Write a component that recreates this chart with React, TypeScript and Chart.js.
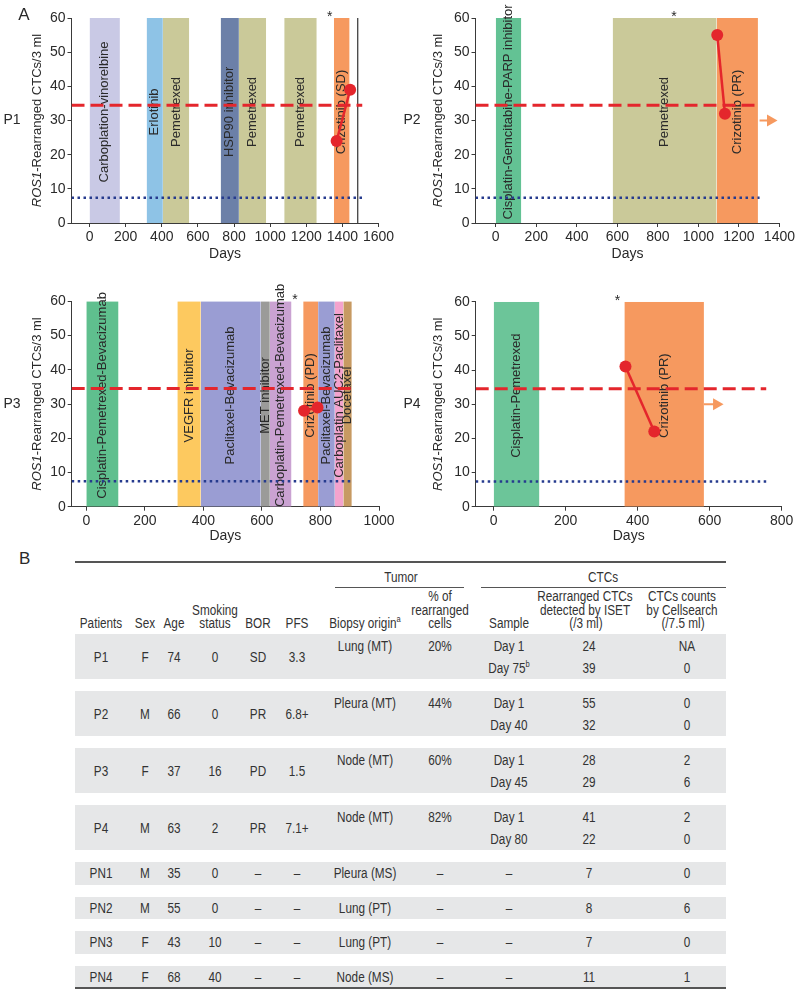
import React, { useEffect, useRef } from "react";
import { Chart, registerables } from "chart.js";

Chart.register(...registerables);

// ---------------- DATA ----------------
const Y_TICKS = [0, 10, 20, 30, 40, 50, 60];
const RED_CUTOFF = 34.5; // dashed red line level
const BLUE_CUTOFF = 7.4; // dotted blue line level
const ARROW_LEVEL = 30;
const LABEL_LEVEL = 32.5;

// P1
const P1_DRUGS = ["Carboplation-vinorelbine", "Erlotinib", "Pemetrexed", "HSP90 inhibitor", "Pemetrexed", "Pemetrexed", "Crizotinib (SD)"];
const P1_START = [0, 316, 406, 726, 827, 1078, 1353];
const P1_END = [168, 406, 552, 827, 978, 1258, 1440];
const P1_DAYS = [1368, 1443];
const P1_CTCS = [24, 39];
const P1_X_TICKS = [0, 200, 400, 600, 800, 1000, 1200, 1400, 1600];
const P1_X_MIN = -100;
const P1_X_MAX = 1600;
const P1_CUTOFF_END = 1510;
const P1_STAR_DAY = 1330;
const P1_LAST_DAY = 1485;

// P2
const P2_DRUGS = ["Cisplatin-Gemcitabine-PARP inhibitor", "Pemetrexed", "Crizotinib (PR)"];
const P2_START = [0, 577, 1090];
const P2_END = [126, 1090, 1294];
const P2_DAYS = [1093, 1131];
const P2_CTCS = [55, 32];
const P2_X_TICKS = [0, 200, 400, 600, 800, 1000, 1200, 1400];
const P2_X_MIN = -100;
const P2_X_MAX = 1400;
const P2_CUTOFF_END = 1302;
const P2_STAR_DAY = 879;
const P2_ARROW = [1302, 1356];

// P3
const P3_DRUGS = ["Cisplatin-Pemetrexed-Bevacizumab", "VEGFR inhibitor", "Paclitaxel-Bevacizumab", "MET inhibitor", "Carboplatin-Pemetrexed-Bevacizumab", "Crizotinib (PD)", "Paclitaxel-Bevacizumab", "Carboplatin AUC2-Paclitaxel", "Docetaxel"];
const P3_START = [0, 311, 391, 596, 627, 741, 792, 849, 878];
const P3_END = [110, 391, 596, 627, 701, 792, 849, 878, 907];
const P3_DAYS = [744, 790];
const P3_CTCS = [28, 29];
const P3_X_TICKS = [0, 200, 400, 600, 800, 1000];
const P3_X_MIN = -50;
const P3_X_MAX = 1000;
const P3_CUTOFF_END = 912;
const P3_STAR_DAY = 713;

// P4
const P4_DRUGS = ["Cisplatin-Pemetrexed", "Crizotinib (PR)"];
const P4_START = [0, 363];
const P4_END = [127, 584];
const P4_DAYS = [366, 446];
const P4_CTCS = [41, 22];
const P4_X_TICKS = [0, 200, 400, 600, 800];
const P4_X_MIN = -50;
const P4_X_MAX = 800;
const P4_CUTOFF_END = 757;
const P4_STAR_DAY = 344;
const P4_ARROW = [584, 619];

// Table
const PATIENTS = ["P1", "P2", "P3", "P4", "PN1", "PN2", "PN3", "PN4"];
const SEX = ["F", "M", "F", "M", "M", "M", "F", "F"];
const AGE = ["74", "66", "37", "63", "35", "55", "43", "68"];
const SMOKING = ["0", "0", "16", "2", "0", "0", "10", "40"];
const BOR = ["SD", "PR", "PD", "PR", "–", "–", "–", "–"];
const PFS = ["3.3", "6.8+", "1.5", "7.1+", "–", "–", "–", "–"];
const BIOPSY = ["Lung (MT)", "Pleura (MT)", "Node (MT)", "Node (MT)", "Pleura (MS)", "Lung (PT)", "Lung (PT)", "Node (MS)"];
const PCT_REARRANGED = ["20%", "44%", "60%", "82%", "–", "–", "–", "–"];
const SAMPLES = [["Day 1", "Day 75"], ["Day 1", "Day 40"], ["Day 1", "Day 45"], ["Day 1", "Day 80"], ["–"], ["–"], ["–"], ["–"]];
const ISET_CTCS = [["24", "39"], ["55", "32"], ["28", "29"], ["41", "22"], ["7"], ["8"], ["7"], ["11"]];
const CELLSEARCH = [["NA", "0"], ["0", "0"], ["2", "6"], ["2", "0"], ["0"], ["6"], ["0"], ["1"]];

// ---------------- STYLE ----------------
const FONT = "'Liberation Sans', Arial, Helvetica, sans-serif";
const TEXT = "#2a2a2a";
const AXIS = "#3a3a3a";
const RED = "#e4262c";
const NAVY = "#263b8e";
const ORANGE = "#f6995f";
const DRUG_COLORS: Record<string, string> = {
  "Carboplation-vinorelbine": "#c9c9e5",
  "Erlotinib": "#8ec3e6",
  "Pemetrexed": "#cac999",
  "HSP90 inhibitor": "#6c80a8",
  "Crizotinib (SD)": ORANGE,
  "Crizotinib (PR)": ORANGE,
  "Crizotinib (PD)": ORANGE,
  "Cisplatin-Gemcitabine-PARP inhibitor": "#63c294",
  "Cisplatin-Pemetrexed-Bevacizumab": "#5fbf8e",
  "Cisplatin-Pemetrexed": "#6cc599",
  "VEGFR inhibitor": "#fdc95f",
  "Paclitaxel-Bevacizumab": "#9a9dd3",
  "MET inhibitor": "#9b9b99",
  "Carboplatin-Pemetrexed-Bevacizumab": "#caa2d2",
  "Carboplatin AUC2-Paclitaxel": "#f4a3cd",
  "Docetaxel": "#c79a62",
};

type Panel = {
  name: string;
  letter?: string;
  drugs: string[];
  starts: number[];
  ends: number[];
  days: number[];
  ctcs: number[];
  xTicks: number[];
  xMin: number;
  xMax: number;
  cutoffEnd: number;
  starDay: number;
  arrow?: number[];
  lastDay?: number;
  box: { left: number; top: number; width: number; height: number };
  area: { left: number; top: number; right: number; bottom: number };
  axisH: number;
  titleX: number;
};

const PANELS: Panel[] = [
  {
    name: "P1", letter: "A", drugs: P1_DRUGS, starts: P1_START, ends: P1_END, days: P1_DAYS, ctcs: P1_CTCS,
    xTicks: P1_X_TICKS, xMin: P1_X_MIN, xMax: P1_X_MAX, cutoffEnd: P1_CUTOFF_END, starDay: P1_STAR_DAY, lastDay: P1_LAST_DAY,
    box: { left: 0, top: 0, width: 398, height: 268 }, area: { left: 71.5, top: 18, right: 378.5, bottom: 223 }, axisH: 40, titleX: 37,
  },
  {
    name: "P2", drugs: P2_DRUGS, starts: P2_START, ends: P2_END, days: P2_DAYS, ctcs: P2_CTCS,
    xTicks: P2_X_TICKS, xMin: P2_X_MIN, xMax: P2_X_MAX, cutoffEnd: P2_CUTOFF_END, starDay: P2_STAR_DAY, arrow: P2_ARROW,
    box: { left: 400, top: 0, width: 397, height: 268 }, area: { left: 75.5, top: 18, right: 381.5, bottom: 223 }, axisH: 40, titleX: 38,
  },
  {
    name: "P3", drugs: P3_DRUGS, starts: P3_START, ends: P3_END, days: P3_DAYS, ctcs: P3_CTCS,
    xTicks: P3_X_TICKS, xMin: P3_X_MIN, xMax: P3_X_MAX, cutoffEnd: P3_CUTOFF_END, starDay: P3_STAR_DAY,
    box: { left: 0, top: 268, width: 398, height: 278 }, area: { left: 71.7, top: 33.3, right: 379, bottom: 238.7 }, axisH: 38, titleX: 37,
  },
  {
    name: "P4", drugs: P4_DRUGS, starts: P4_START, ends: P4_END, days: P4_DAYS, ctcs: P4_CTCS,
    xTicks: P4_X_TICKS, xMin: P4_X_MIN, xMax: P4_X_MAX, cutoffEnd: P4_CUTOFF_END, starDay: P4_STAR_DAY, arrow: P4_ARROW,
    box: { left: 400, top: 268, width: 397, height: 278 }, area: { left: 75.7, top: 33.7, right: 381.7, bottom: 238.7 }, axisH: 38, titleX: 38,
  },
];

function buildChart(canvas: HTMLCanvasElement, p: Panel) {
  const datasets: any[] = [];
  datasets.push({
    data: p.days.map((d, i) => ({ x: d, y: p.ctcs[i] })),
    borderColor: RED, backgroundColor: RED, borderWidth: 2.5,
    pointRadius: 6, pointHoverRadius: 6, pointBackgroundColor: RED, pointBorderWidth: 0, fill: false,
  });
  if (p.arrow) {
    datasets.push({
      data: [{ x: p.arrow[0], y: ARROW_LEVEL }, { x: p.arrow[1], y: ARROW_LEVEL }],
      borderColor: ORANGE, backgroundColor: ORANGE, borderWidth: 2,
      pointRadius: [0, 7], pointHoverRadius: [0, 7], pointStyle: "triangle", pointRotation: 90,
      pointBackgroundColor: ORANGE, pointBorderWidth: 0, fill: false,
    });
  }
  datasets.push({
    data: [{ x: p.xMin, y: RED_CUTOFF }, { x: p.cutoffEnd, y: RED_CUTOFF }],
    borderColor: RED, borderWidth: 3, borderDash: [13, 6], pointRadius: 0, fill: false,
  });
  datasets.push({
    data: [{ x: p.xMin, y: BLUE_CUTOFF }, { x: p.cutoffEnd, y: BLUE_CUTOFF }],
    borderColor: NAVY, borderWidth: 2.5, borderDash: [2.5, 3.5], pointRadius: 0, fill: false,
  });
  if (p.lastDay !== undefined) {
    datasets.push({
      data: [{ x: p.lastDay, y: 0 }, { x: p.lastDay, y: 60 }],
      borderColor: "#333", borderWidth: 1.2, pointRadius: 0, fill: false,
    });
  }
  const firstBar = datasets.length;
  p.drugs.forEach((d, i) => {
    datasets.push({
      data: [{ x: p.starts[i], y: 60 }, { x: p.ends[i], y: 60 }],
      borderColor: "rgba(0,0,0,0)", borderWidth: 0, backgroundColor: DRUG_COLORS[d] || "#ccc",
      pointRadius: 0, fill: "origin",
    });
  });

  const plugin = {
    id: "annot" + p.name,
    afterDatasetDraw(chart: any, args: any) {
      if (args.index !== firstBar) return;
      const { ctx, scales } = chart;
      ctx.save();
      ctx.fillStyle = TEXT;
      ctx.font = `13px ${FONT}`;
      ctx.textAlign = "center";
      ctx.textBaseline = "middle";
      p.drugs.forEach((d, i) => {
        const cx = scales.x.getPixelForValue((p.starts[i] + p.ends[i]) / 2);
        const cy = scales.y.getPixelForValue(LABEL_LEVEL);
        ctx.save();
        ctx.translate(cx, cy);
        ctx.rotate(-Math.PI / 2);
        ctx.fillText(d, 0, 0);
        ctx.restore();
      });
      ctx.restore();
    },
    afterDraw(chart: any) {
      const { ctx, scales, chartArea } = chart;
      ctx.save();
      ctx.fillStyle = TEXT;
      ctx.font = `14px ${FONT}`;
      ctx.textAlign = "center";
      ctx.textBaseline = "alphabetic";
      ctx.fillText("*", scales.x.getPixelForValue(p.starDay), chartArea.top + 3);
      const midY = (chartArea.top + chartArea.bottom) / 2;
      ctx.font = `14px ${FONT}`;
      ctx.textBaseline = "middle";
      ctx.fillText(p.name, 12, midY);
      const italic = `italic 13px ${FONT}`;
      const normal = `13px ${FONT}`;
      ctx.font = italic;
      const w1 = ctx.measureText("ROS1").width;
      ctx.font = normal;
      const rest = "-Rearranged CTCs/3 ml";
      const w2 = ctx.measureText(rest).width;
      ctx.save();
      ctx.translate(p.titleX, midY);
      ctx.rotate(-Math.PI / 2);
      ctx.textAlign = "left";
      ctx.font = italic;
      ctx.fillText("ROS1", -(w1 + w2) / 2, 0);
      ctx.font = normal;
      ctx.fillText(rest, -(w1 + w2) / 2 + w1, 0);
      ctx.restore();
      if (p.letter) {
        ctx.font = `17px ${FONT}`;
        ctx.textAlign = "center";
        ctx.fillText(p.letter, 24, 15);
      }
      ctx.restore();
    },
  };

  const tickFont = { family: FONT, size: 14 };
  return new Chart(canvas, {
    type: "line",
    data: { datasets },
    options: {
      responsive: false,
      animation: false,
      events: [],
      layout: {
        padding: {
          left: 0,
          top: p.area.top,
          right: p.box.width - p.area.right,
          bottom: p.box.height - p.area.bottom - p.axisH,
        },
      },
      plugins: { legend: { display: false }, tooltip: { enabled: false } },
      elements: { line: { tension: 0 } },
      scales: {
        x: {
          type: "linear",
          min: p.xMin,
          max: p.xMax,
          afterBuildTicks: (ax: any) => { ax.ticks = p.xTicks.map((v) => ({ value: v })); },
          afterFit: (ax: any) => { ax.height = p.axisH; },
          grid: { drawOnChartArea: false, drawTicks: true, tickLength: 4, color: AXIS },
          border: { display: true, color: AXIS, width: 1 },
          ticks: { color: TEXT, font: tickFont, padding: 2, maxRotation: 0, autoSkip: false, callback: (v: any) => String(v) },
          title: { display: true, text: "Days", color: TEXT, font: tickFont, padding: 0 },
        },
        y: {
          type: "linear",
          min: 0,
          max: 60,
          afterBuildTicks: (ax: any) => { ax.ticks = Y_TICKS.map((v) => ({ value: v })); },
          afterFit: (ax: any) => { ax.width = p.area.left; },
          grid: { drawOnChartArea: false, drawTicks: true, tickLength: 4, color: AXIS },
          border: { display: true, color: AXIS, width: 1 },
          ticks: { color: TEXT, font: tickFont, padding: 2, callback: (v: any) => String(v) },
        },
      },
    } as any,
    plugins: [plugin],
  });
}

function PanelChart({ p }: { p: Panel }) {
  const ref = useRef<HTMLCanvasElement>(null);
  useEffect(() => {
    if (!ref.current) return;
    const c = buildChart(ref.current, p);
    return () => c.destroy();
  }, [p]);
  return (
    <canvas
      ref={ref}
      width={p.box.width}
      height={p.box.height}
      style={{ position: "absolute", left: p.box.left, top: p.box.top, width: p.box.width, height: p.box.height }}
    />
  );
}

// ---------------- TABLE ----------------
const COLX = { patients: 101, sex: 144.5, age: 174, smoking: 215, bor: 258, pfs: 297, biopsy: 365, pct: 440, sample: 509, iset: 589, cs: 687 };
const TABLE_LEFT = 74.5;
const TABLE_RIGHT = 726;

function Txt({ x, y, children }: { x: number; y: number; children: any }) {
  return (
    <div
      style={{
        position: "absolute", left: x - 90, width: 180, top: y - 8, height: 16, lineHeight: "16px",
        textAlign: "center", whiteSpace: "nowrap", fontFamily: FONT, fontSize: 14, color: "#333",
        transform: "scaleX(0.84)", transformOrigin: "50% 50%",
      }}
    >
      {children}
    </div>
  );
}

function HLine({ x1, x2, y, w, color }: { x1: number; x2: number; y: number; w: number; color: string }) {
  return <div style={{ position: "absolute", left: x1, width: x2 - x1, top: y - w / 2, height: w, background: color }} />;
}

const sup = (s: string) => (
  <sup style={{ fontSize: 9, verticalAlign: "top", lineHeight: "10px", position: "relative", top: -1 }}>{s}</sup>
);

function Table() {
  const heights = PATIENTS.map((_, i) => (SAMPLES[i].length > 1 ? 45 : 22.5));
  const tops: number[] = [];
  let t = 634;
  heights.forEach((h) => { tops.push(t); t += h + 12; });
  return (
    <>
      <div style={{ position: "absolute", left: 19, top: 549, fontFamily: FONT, fontSize: 17, color: TEXT }}>B</div>
      <HLine x1={TABLE_LEFT} x2={TABLE_RIGHT} y={562} w={1.5} color="#555" />
      <Txt x={401} y={577}>Tumor</Txt>
      <HLine x1={335} x2={464} y={587} w={1} color="#555" />
      <Txt x={602.5} y={577}>CTCs</Txt>
      <HLine x1={481} x2={TABLE_RIGHT} y={587} w={1} color="#555" />
      <Txt x={COLX.pct} y={596}>% of</Txt>
      <Txt x={COLX.pct} y={610}>rearranged</Txt>
      <Txt x={COLX.pct} y={623}>cells</Txt>
      <Txt x={585} y={596}>Rearranged CTCs</Txt>
      <Txt x={585} y={610}>detected by ISET</Txt>
      <Txt x={COLX.iset - 3} y={623}>(/3 ml)</Txt>
      <Txt x={682} y={596}>CTCs counts</Txt>
      <Txt x={682} y={610}>by Cellsearch</Txt>
      <Txt x={COLX.cs - 4} y={623}>(/7.5 ml)</Txt>
      <Txt x={COLX.smoking} y={610}>Smoking</Txt>
      <Txt x={COLX.smoking} y={623}>status</Txt>
      <Txt x={COLX.patients} y={623}>Patients</Txt>
      <Txt x={COLX.sex} y={623}>Sex</Txt>
      <Txt x={COLX.age} y={623}>Age</Txt>
      <Txt x={COLX.bor} y={623}>BOR</Txt>
      <Txt x={COLX.pfs} y={623}>PFS</Txt>
      <Txt x={COLX.biopsy} y={623}>Biopsy origin{sup("a")}</Txt>
      <Txt x={COLX.sample} y={623}>Sample</Txt>
      <HLine x1={TABLE_LEFT} x2={TABLE_RIGHT} y={634} w={1} color="#666" />
      {PATIENTS.map((pt, i) => {
        const top = tops[i];
        const h = heights[i];
        const two = SAMPLES[i].length > 1;
        const mid = top + h / 2;
        const l1 = two ? top + 11.5 : mid;
        const l2 = top + 33.5;
        return (
          <React.Fragment key={pt}>
            <div style={{ position: "absolute", left: TABLE_LEFT, width: TABLE_RIGHT - TABLE_LEFT, top, height: h, background: "#e6e7e8" }} />
            <Txt x={COLX.patients} y={mid}>{pt}</Txt>
            <Txt x={COLX.sex} y={mid}>{SEX[i]}</Txt>
            <Txt x={COLX.age} y={mid}>{AGE[i]}</Txt>
            <Txt x={COLX.smoking} y={mid}>{SMOKING[i]}</Txt>
            <Txt x={COLX.bor} y={mid}>{BOR[i]}</Txt>
            <Txt x={COLX.pfs} y={mid}>{PFS[i]}</Txt>
            <Txt x={COLX.biopsy} y={l1}>{BIOPSY[i]}</Txt>
            <Txt x={COLX.pct} y={l1}>{PCT_REARRANGED[i]}</Txt>
            {SAMPLES[i].map((s, j) => (
              <React.Fragment key={j}>
                <Txt x={COLX.sample} y={j === 0 ? l1 : l2}>{s}{i === 0 && j === 1 ? sup("b") : null}</Txt>
                <Txt x={COLX.iset} y={j === 0 ? l1 : l2}>{ISET_CTCS[i][j]}</Txt>
                <Txt x={COLX.cs} y={j === 0 ? l1 : l2}>{CELLSEARCH[i][j]}</Txt>
              </React.Fragment>
            ))}
          </React.Fragment>
        );
      })}
      <HLine x1={TABLE_LEFT} x2={TABLE_RIGHT} y={988} w={1.5} color="#555" />
    </>
  );
}

export default function App() {
  return (
    <div style={{ position: "absolute", left: 0, top: 0, width: 797, height: 989, background: "#fff", overflow: "hidden" }}>
      {PANELS.map((p) => (
        <PanelChart key={p.name} p={p} />
      ))}
      <Table />
    </div>
  );
}
